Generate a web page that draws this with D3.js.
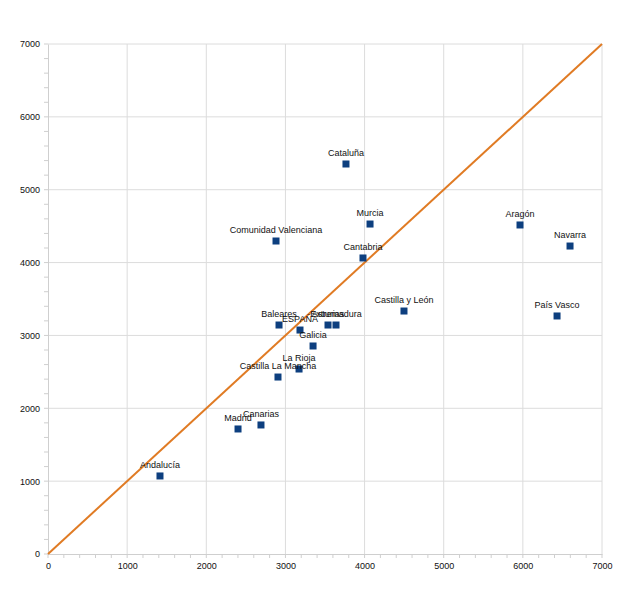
<!DOCTYPE html>
<html><head><meta charset="utf-8">
<script src="https://cdn.jsdelivr.net/npm/d3@7"></script>
<style>body{margin:0;background:#fff;}svg{display:block;font-family:"Liberation Sans",Arial,sans-serif;}</style>
</head><body>
<script>
const regions = ["Andalucía","Madrid","Canarias","Castilla La Mancha","La Rioja","Galicia","ESPAÑA","Baleares","Asturias","Extremadura","Castilla y León","Comunidad Valenciana","Cantabria","Murcia","Cataluña","Aragón","Navarra","País Vasco"];
const xValues = [1415,2401,2691,2906,3172,3349,3184,2919,3538,3639,4498,2881,3980,4069,3765,5964,6596,6432];
const yValues = [1071,1716,1771,2429,2539,2855,3074,3143,3143,3143,3335,4296,4063,4529,5353,4516,4227,3267];
const majorTicks = [0,1000,2000,3000,4000,5000,6000,7000];
const refLine = [[0,0],[7000,7000]];

const W=640,H=604;
const svg=d3.select("body").append("svg").attr("width",W).attr("height",H);
const x=d3.scaleLinear().domain([0,7000]).range([48,602]);
const y=d3.scaleLinear().domain([0,7000]).range([554,44]);
const minor=d3.range(0,7001,200);

// grid
svg.append("g").selectAll("line").data(majorTicks.slice(1)).join("line")
  .attr("x1",d=>x(d)).attr("x2",d=>x(d)).attr("y1",y(0)).attr("y2",y(7000))
  .attr("stroke","#dcdcdc").attr("stroke-width",1);
svg.append("g").selectAll("line").data(majorTicks.slice(1)).join("line")
  .attr("y1",d=>y(d)).attr("y2",d=>y(d)).attr("x1",x(0)).attr("x2",x(7000))
  .attr("stroke","#dcdcdc").attr("stroke-width",1);

// axes
const xAxis=svg.append("g").attr("transform",`translate(0,${y(0)})`)
  .call(d3.axisBottom(x).tickValues(majorTicks).tickSize(0).tickPadding(9).tickFormat(d3.format("d")));
xAxis.select(".domain").attr("stroke","#cfcfcf");
xAxis.selectAll("text").attr("font-size",9).attr("fill","#111");
svg.append("g").selectAll("line").data(minor).join("line")
  .attr("x1",d=>x(d)).attr("x2",d=>x(d)).attr("y1",y(0)).attr("y2",y(0)+4).attr("stroke","#cfcfcf");

const yAxis=svg.append("g").attr("transform",`translate(${x(0)},0)`)
  .call(d3.axisLeft(y).tickValues(majorTicks).tickSize(0).tickPadding(8).tickFormat(d3.format("d")));
yAxis.select(".domain").attr("stroke","#cfcfcf");
yAxis.selectAll("text").attr("font-size",9).attr("fill","#111");
svg.append("g").selectAll("line").data(minor).join("line")
  .attr("y1",d=>y(d)).attr("y2",d=>y(d)).attr("x1",x(0)-4).attr("x2",x(0)).attr("stroke","#cfcfcf");

// reference line
svg.append("path").datum(refLine)
  .attr("d",d3.line().x(d=>x(d[0])).y(d=>y(d[1])))
  .attr("stroke","#e07b24").attr("stroke-width",2).attr("fill","none");

const data=regions.map((r,i)=>({r,x:xValues[i],y:yValues[i]}));
svg.append("g").selectAll("rect").data(data).join("rect")
  .attr("x",d=>x(d.x)-3.5).attr("y",d=>y(d.y)-3.5).attr("width",7).attr("height",7)
  .attr("fill","#0d3f7f");
svg.append("g").selectAll("text").data(data).join("text")
  .attr("x",d=>x(d.x)).attr("y",d=>y(d.y)-8)
  .attr("text-anchor","middle").attr("font-size",9).attr("fill","#111")
  .text(d=>d.r);
</script>
</body></html>
